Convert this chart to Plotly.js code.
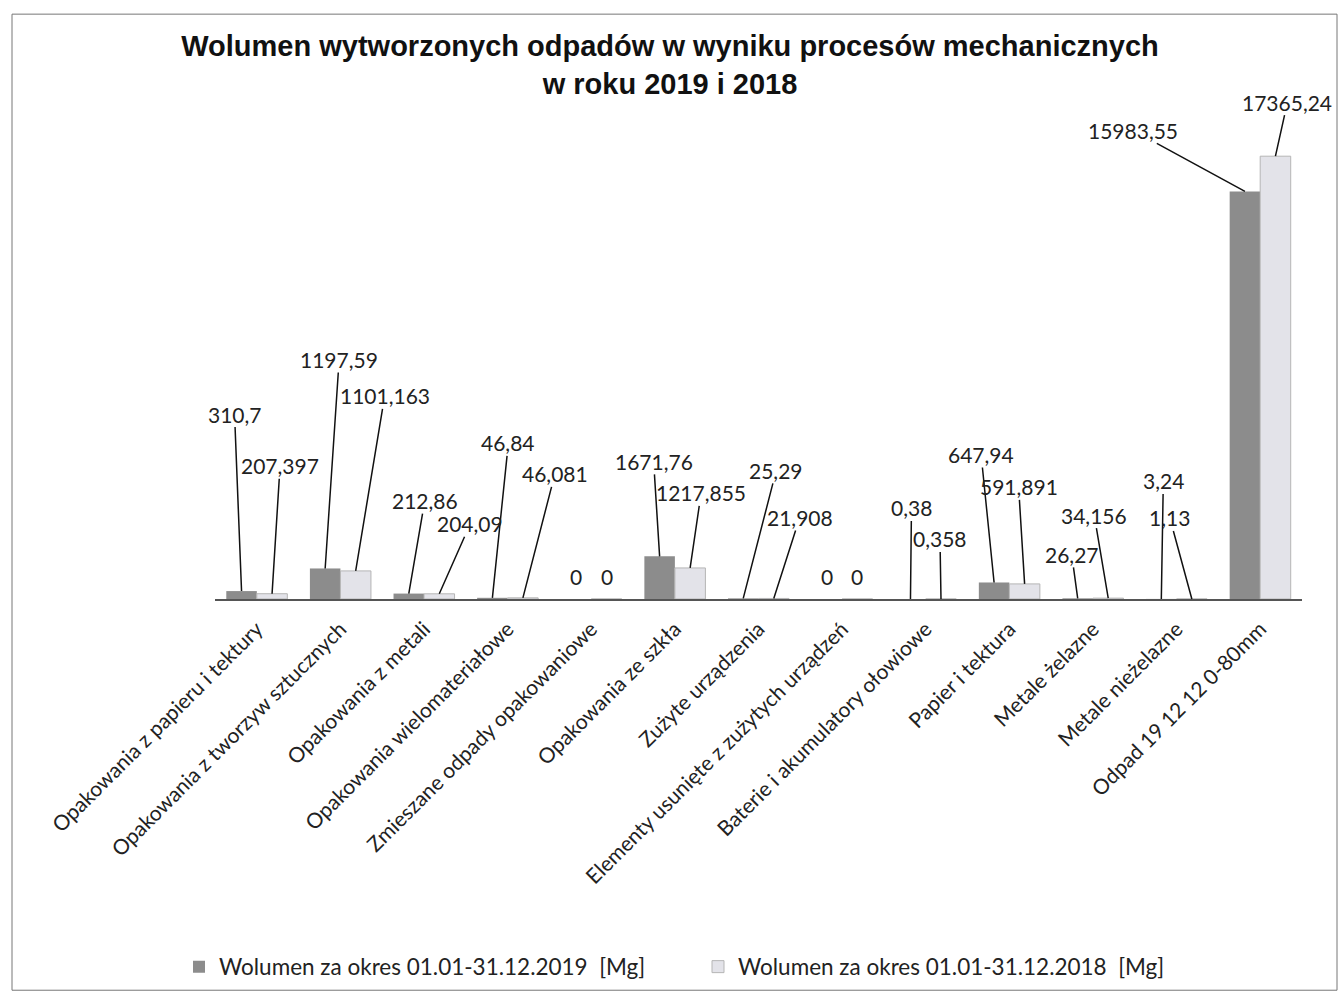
<!DOCTYPE html>
<html>
<head>
<meta charset="utf-8">
<script src="https://cdn.plot.ly/plotly-3.0.1.min.js"></script>
<style>html,body{margin:0;padding:0;background:#fff;}#chart{width:1340px;height:999px;}</style>
</head>
<body>
<div id="chart"></div>
<script>
// ---- data ----
const categories = [
  "Opakowania z papieru i tektury",
  "Opakowania z tworzyw sztucznych",
  "Opakowania z metali",
  "Opakowania wielomateriałowe",
  "Zmieszane odpady opakowaniowe",
  "Opakowania ze szkła",
  "Zużyte urządzenia",
  "Elementy usunięte z zużytych urządzeń",
  "Baterie i akumulatory ołowiowe",
  "Papier i tektura",
  "Metale żelazne",
  "Metale nieżelazne",
  "Odpad 19 12 12 0-80mm"
];
const vol2019 = [310.7, 1197.59, 212.86, 46.84, 0, 1671.76, 25.29, 0, 0.38, 647.94, 26.27, 3.24, 15983.55];
const vol2018 = [207.397, 1101.163, 204.09, 46.081, 0, 1217.855, 21.908, 0, 0.358, 591.891, 34.156, 1.13, 17365.24];
const seriesNames = ["Wolumen za okres 01.01-31.12.2019  [Mg]", "Wolumen za okres 01.01-31.12.2018  [Mg]"];

// ---- label placement (pixel offsets of label from bar top; null = label right above bar) ----
const labelOffset2019 = [[-7,-177],[14,-209],[16,-93],[16,-155],null,[-6,-95],[33,-128],null,[1,-91],[-13,-128],[-6,-44],[2,-118],[-112,-61]];
const labelOffset2018 = [[8,-128],[29,-175],[31,-70],[32,-124],null,[11,-75],[26,-81],null,[-1,-60],[-6,-97],[-14,-83],[-22,-81],[12,-54]];

const BARGAP = 0.27;
const half = (1 - BARGAP) / 4;
const labelFont = {family: "Lato, 'Open Sans', sans-serif", size: 21, color: "#222"};
const fmt = v => String(v).replace('.', ',');

const annotations = [];
function addLabels(vals, offs, shift) {
  vals.forEach((v, i) => {
    const o = offs[i];
    if (o) {
      annotations.push({
        x: i + shift, y: v, xref: 'x', yref: 'y', text: fmt(v),
        showarrow: true, arrowhead: 0, arrowwidth: 1.5, arrowcolor: '#111',
        ax: o[0], ay: o[1], standoff: 0, font: labelFont, borderpad: 0
      });
    } else {
      annotations.push({
        x: i + shift, y: v, xref: 'x', yref: 'y', text: fmt(v),
        showarrow: false, yanchor: 'bottom', yshift: 8, font: labelFont
      });
    }
  });
}
addLabels(vol2019, labelOffset2019, -half);
addLabels(vol2018, labelOffset2018, half);

const traces = [
  {type: 'bar', x: categories, y: vol2019, name: seriesNames[0],
   marker: {color: '#8c8c8c'}, hoverinfo: 'y'},
  {type: 'bar', x: categories, y: vol2018, name: seriesNames[1],
   marker: {color: '#e3e3e9', line: {color: '#b5b5b5', width: 1}}, hoverinfo: 'y'}
];

const L = 215, R = 38, T = 89, B = 399, W = 1340, H = 999;
const pw = W - L - R, ph = H - T - B;
const px2x = p => (p - L) / pw;
const px2y = p => (H - B - p) / ph;

const layout = {
  width: W, height: H,
  margin: {l: L, r: R, t: T, b: B, pad: 0},
  paper_bgcolor: '#fff', plot_bgcolor: '#fff',
  barmode: 'group', bargap: BARGAP, bargroupgap: 0,
  title: {
    text: "Wolumen wytworzonych odpadów w wyniku procesów mechanicznych<br>w roku 2019 i 2018",
    font: {family: "'Liberation Sans', Arial, sans-serif", size: 29, color: '#111', weight: 'bold'},
    x: 0.5, xref: 'container', xanchor: 'center',
    y: 1 - 56 / H, yref: 'container', yanchor: 'top'
  },
  xaxis: {
    type: 'category', range: [-0.5, categories.length - 0.5], autorange: false,
    tickangle: -45, showline: true, linecolor: '#555', linewidth: 1.5,
    ticks: '', showgrid: false, zeroline: false, ticklabelstandoff: 8,
    tickfont: {family: "Lato, 'Open Sans', sans-serif", size: 21, color: '#222'}
  },
  yaxis: {
    range: [0, 20000], autorange: false, visible: false, showgrid: false, zeroline: false
  },
  showlegend: true,
  legend: {
    orientation: 'h', x: px2x(179), xanchor: 'left', y: px2y(967), yanchor: 'middle',
    font: {family: "Lato, 'Open Sans', sans-serif", size: 22.5, color: '#222'},
    entrywidth: 474, entrywidthmode: 'pixels', traceorder: 'normal', itemwidth: 30
  },
  annotations: annotations,
  shapes: [{
    type: 'rect', xref: 'paper', yref: 'paper',
    x0: px2x(12), x1: px2x(1337), y0: px2y(992), y1: px2y(14),
    line: {color: '#777', width: 1}, fillcolor: 'rgba(0,0,0,0)', layer: 'below'
  }]
};

Plotly.newPlot('chart', traces, layout, {displayModeBar: false, staticPlot: true});
</script>
</body>
</html>
